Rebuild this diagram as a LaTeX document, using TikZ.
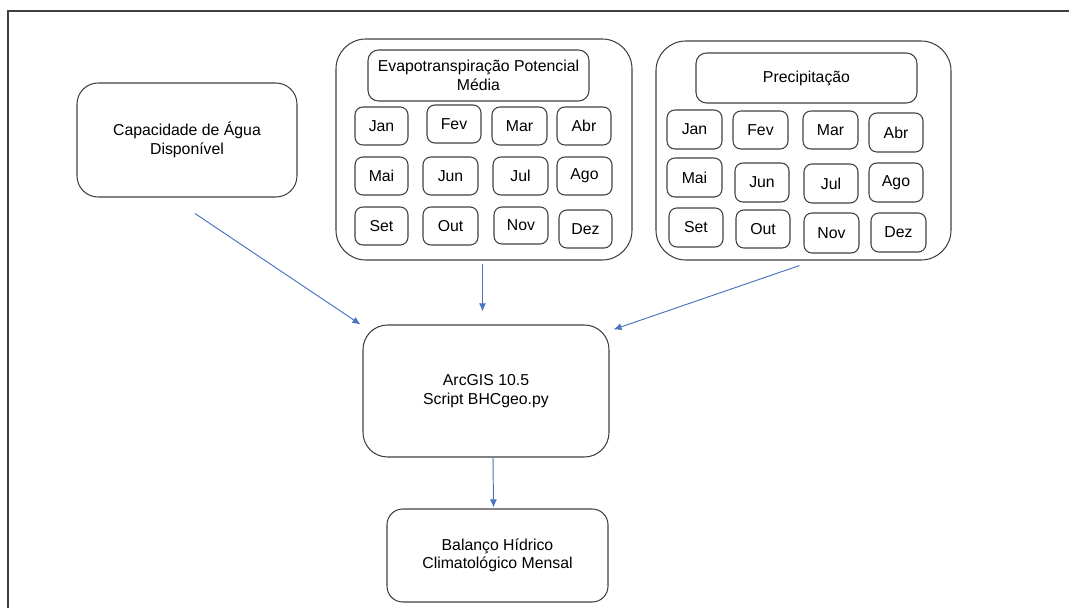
\documentclass[tikz,border=0pt]{standalone}
\usepackage{fontspec}
\setmainfont{Liberation Sans}
\usetikzlibrary{arrows.meta,calc}
\definecolor{edge}{HTML}{404040}
\definecolor{flow}{HTML}{4A74C0}
\tikzset{
  base/.style={draw=edge, line width=0.6pt, inner sep=0pt, align=center,
    font=\fontsize{9}{10.6}\selectfont},
  group/.style={base, rounded corners=17pt},
  bigbox/.style={base, rounded corners=12pt},
  titlebox/.style={base, rounded corners=6pt},
  month/.style={base, rounded corners=4.5pt},
  arr/.style={draw=flow, line width=0.55pt, -{Latex[length=4.6pt,width=4pt]}},
  frame/.style={draw=edge, line width=1.1pt}
}
% box from its corners: style, name, x1, y1, x2, y2, text
\newcommand\cornerbox[7]{%
  \node[#1, minimum width={(#5-#3)*0.02cm}, minimum height={(#6-#4)*0.02cm}]
    (#2) at ({(#3+#5)/2},{(#4+#6)/2}) {#7};}
\begin{document}
\begin{tikzpicture}[x=0.02cm, y=-0.02cm]
\useasboundingbox (0,0) rectangle (1069,608);
\coordinate (ftop) at (1069,11);
\coordinate (fcorner) at (8,11);
\coordinate (fbottom) at (8,608);
\draw[frame] (ftop) -- (fcorner) -- (fbottom);

% input: water capacity
\cornerbox{bigbox}{cap}{77}{83}{297}{197}{Capacidade de Água\\Disponível}

% evapotranspiration group
\cornerbox{group}{etp}{336}{39}{632}{260}{}
\cornerbox{titlebox}{etpt}{368}{50}{589}{101}{Evapotranspiração Potencial\\Média}
\cornerbox{month}{e1}{355}{107}{408}{145}{Jan}
\cornerbox{month}{e2}{427}{105}{481}{143}{Fev}
\cornerbox{month}{e3}{492}{107}{547}{145}{Mar}
\cornerbox{month}{e4}{557}{107}{611}{145}{Abr}
\cornerbox{month}{e5}{355}{157}{408}{195}{Mai}
\cornerbox{month}{e6}{423}{157}{478}{195}{Jun}
\cornerbox{month}{e7}{493}{157}{548}{195}{Jul}
\cornerbox{month}{e8}{557}{157}{612}{195}{Ago}
\cornerbox{month}{e9}{355}{207}{408}{245}{Set}
\cornerbox{month}{e10}{423}{207}{478}{245}{Out}
\cornerbox{month}{e11}{494}{207}{548}{244}{Nov}
\cornerbox{month}{e12}{559}{210}{612}{248}{Dez}

% precipitation group
\cornerbox{group}{pre}{656}{41}{951}{260}{}
\cornerbox{titlebox}{pret}{696}{53}{917}{103}{Precipitação}
\cornerbox{month}{p1}{667}{110}{722}{149}{Jan}
\cornerbox{month}{p2}{733}{111}{788}{149}{Fev}
\cornerbox{month}{p3}{803}{111}{858}{149}{Mar}
\cornerbox{month}{p4}{869}{113}{923}{152}{Abr}
\cornerbox{month}{p5}{667}{158}{722}{197}{Mai}
\cornerbox{month}{p6}{735}{163}{789}{202}{Jun}
\cornerbox{month}{p7}{804}{164}{858}{203}{Jul}
\cornerbox{month}{p8}{869}{163}{923}{202}{Ago}
\cornerbox{month}{p9}{669}{208}{723}{247}{Set}
\cornerbox{month}{p10}{736}{210}{790}{248}{Out}
\cornerbox{month}{p11}{804}{213}{859}{253}{Nov}
\cornerbox{month}{p12}{871}{213}{926}{252}{Dez}

% processing and result
\cornerbox{bigbox, rounded corners=14pt}{arc}{363}{325}{609}{457}{ArcGIS 10.5\\Script BHCgeo.py}
\cornerbox{bigbox, rounded corners=9pt}{bal}{387}{509}{608}{602}{Balanço Hídrico\\Climatológico Mensal}

% flows
\draw[arr] ($(cap.south)+(8,16)$) -- ($(arc.north west)+(-2,0)$);
\draw[arr] ($(etp.south)+(-1.5,3)$) -- ($(arc.north)+(-3.5,-13)$);
\draw[arr] ($(pre.south)+(-4,5)$) -- ($(arc.north east)+(4,5)$);
\draw[arr] ($(arc.south)+(7,0)$) -- ($(bal.north)+(-4,-1)$);
\end{tikzpicture}
\end{document}
